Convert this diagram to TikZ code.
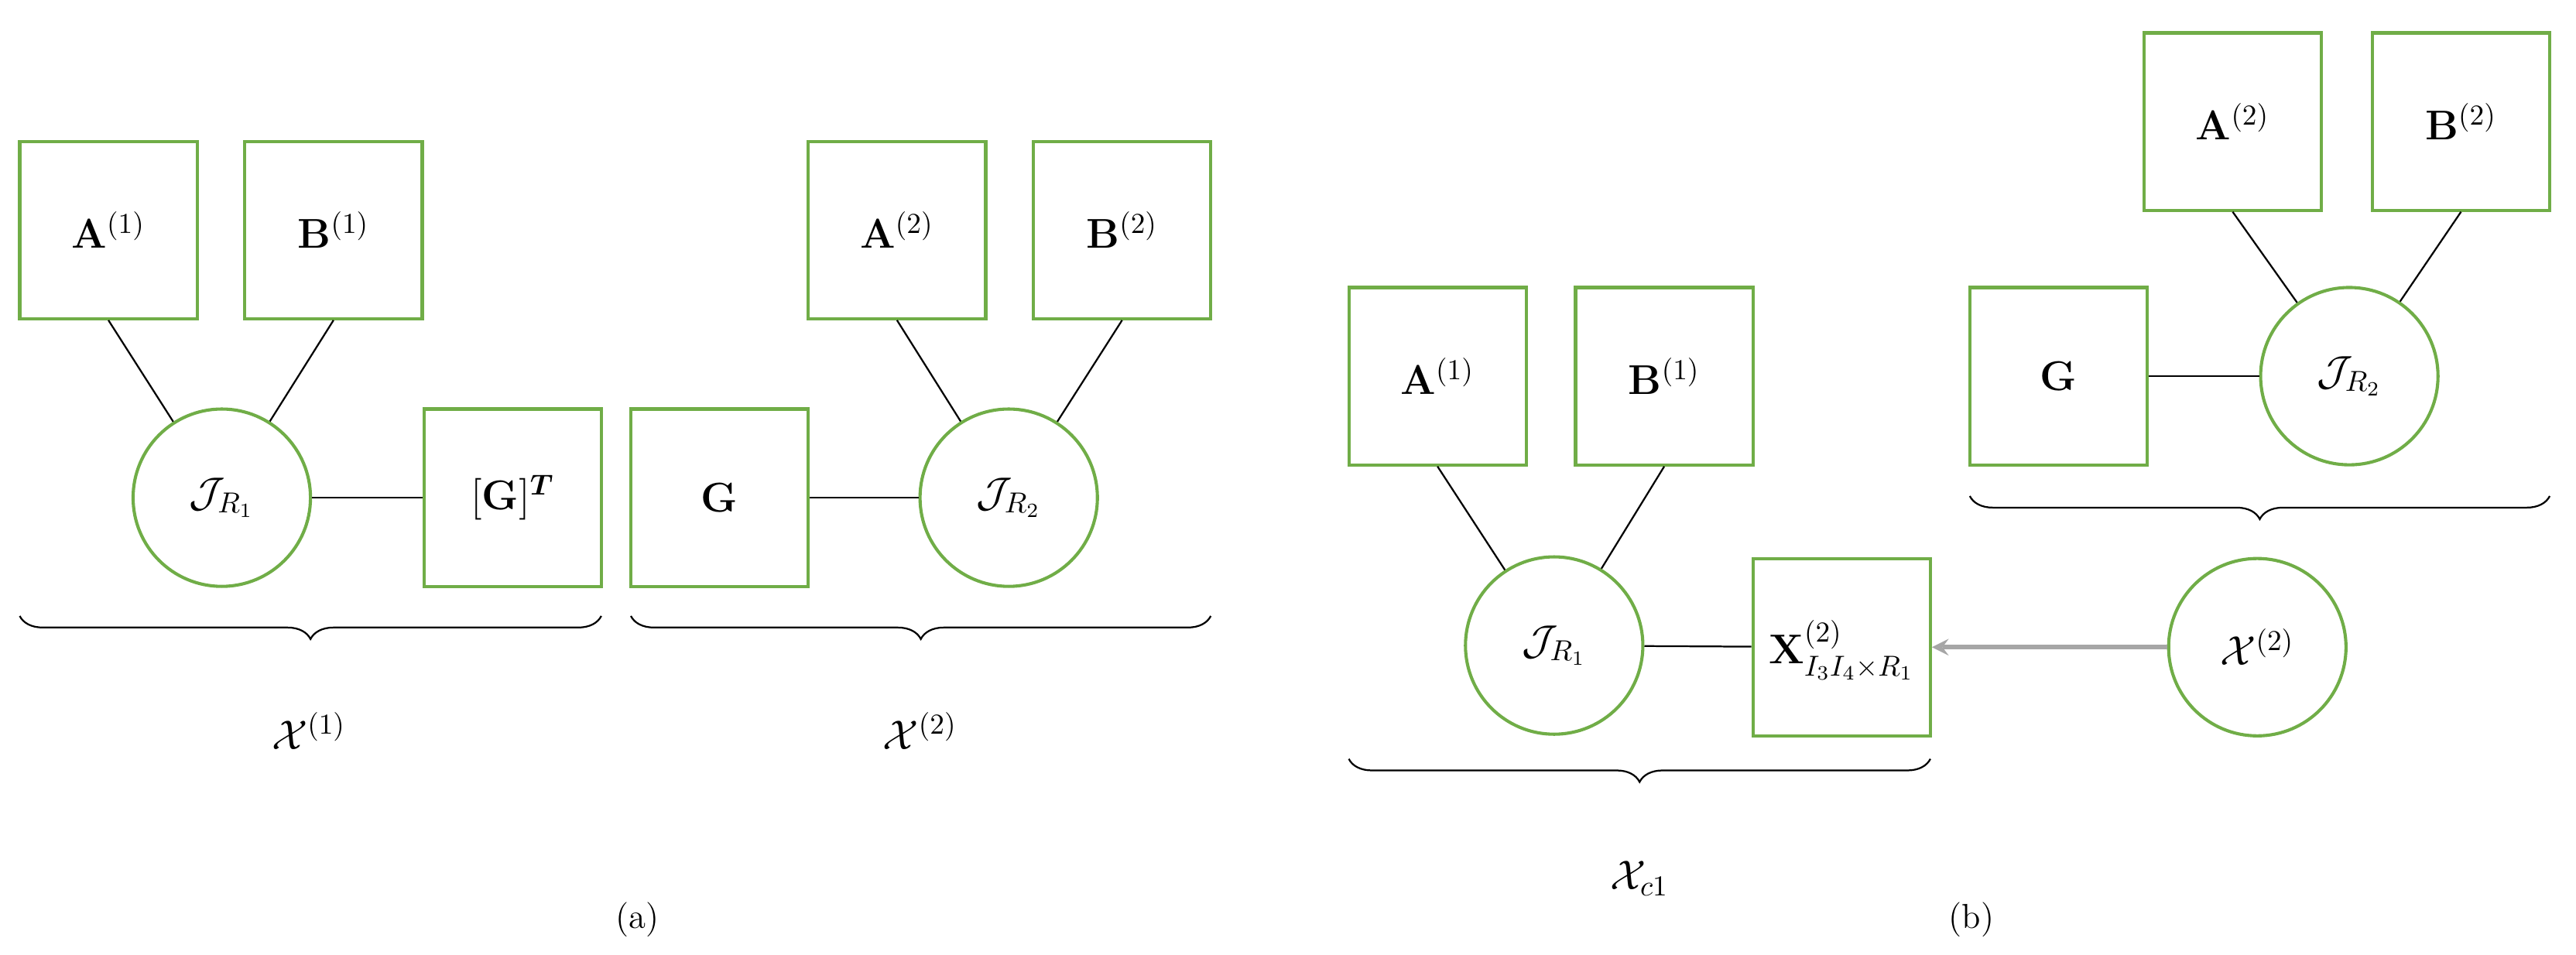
\documentclass[tikz,border=0pt]{standalone}
\usepackage{amsmath,amssymb,bm}
\usetikzlibrary{decorations.pathreplacing}
\definecolor{g}{RGB}{112,173,71}
\begin{document}
\begin{tikzpicture}[x=0.02cm,y=-0.02cm,
 box/.style={draw=g,line width=1.1pt,minimum size=2.16cm,inner sep=0pt,font=\Large},
 circ/.style={draw=g,line width=1.1pt,circle,minimum size=2.16cm,inner sep=0pt,font=\Large},
 ln/.style={line width=0.6pt},
 br/.style={decorate,decoration={brace,amplitude=8pt},line width=0.6pt},
 lab/.style={font=\Large}]
\useasboundingbox (0,0) rectangle (1568,581);
% (a)
\node[box] (a1) at (66,140) {$\mathbf{A}^{(1)}$};
\node[box] (b1) at (203,140) {$\mathbf{B}^{(1)}$};
\node[circ] (j1) at (135,303) {$\mathcal{J}_{R_1}$};
\node[box] (gt) at (312,303) {$[\mathbf{G}]^{\bm{T}}$};
\node[box] (g) at (438,303) {$\mathbf{G}$};
\node[circ] (j2) at (614,303) {$\mathcal{J}_{R_2}$};
\node[box] (a2) at (546,140) {$\mathbf{A}^{(2)}$};
\node[box] (b2) at (683,140) {$\mathbf{B}^{(2)}$};
\draw[ln] (a1.south) -- (j1);
\draw[ln] (b1.south) -- (j1);
\draw[ln] (j1) -- (gt);
\draw[ln] (g) -- (j2);
\draw[ln] (a2.south) -- (j2);
\draw[ln] (b2.south) -- (j2);
\draw[br] (366,375) -- (12,375);
\draw[br] (737,375) -- (384,375);
\node[lab] (x1) at (188,445) {$\mathcal{X}^{(1)}$};
\node[lab] (x2) at (560,445) {$\mathcal{X}^{(2)}$};
\node[font=\large] (ca) at (388,560) {(a)};
% (b)
\node[box] (ba1) at (875,229) {$\mathbf{A}^{(1)}$};
\node[box] (bb1) at (1013,229) {$\mathbf{B}^{(1)}$};
\node[circ] (bj1) at (946,393) {$\mathcal{J}_{R_1}$};
\node[box] (bx) at (1121,394) {};
\node[font=\Large] (bxl) at (1121,396) {$\mathbf{X}^{(2)}_{I_3I_4\times R_1}$};
\node[circ] (bx2) at (1374,394) {$\mathcal{X}^{(2)}$};
\node[box] (bg) at (1253,229) {$\mathbf{G}$};
\node[circ] (bj2) at (1430,229) {$\mathcal{J}_{R_2}$};
\node[box] (ba2) at (1359,74) {$\mathbf{A}^{(2)}$};
\node[box] (bb2) at (1498,74) {$\mathbf{B}^{(2)}$};
\draw[ln] (ba1.south) -- (bj1);
\draw[ln] (bb1.south) -- (bj1);
\draw[ln] (bj1) -- (bx);
\draw[ln] (bg) -- (bj2);
\draw[ln] (ba2.south) -- (bj2);
\draw[ln] (bb2.south) -- (bj2);
\draw[gray!70,line width=1.5pt,-stealth] (bx2) -- (bx);
\draw[br] (1552,302) -- (1199,302);
\draw[br] (1175,462) -- (821,462);
\node[lab] (xc) at (998,535) {$\mathcal{X}_{c1}$};
\node[font=\large] (cb) at (1200,560) {(b)};
\end{tikzpicture}
\end{document}
